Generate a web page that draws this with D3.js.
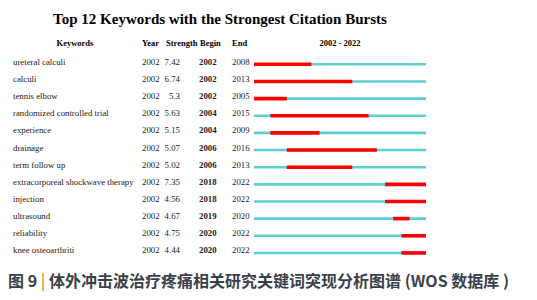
<!DOCTYPE html>
<html>
<head>
<meta charset="utf-8">
<script src="https://cdn.jsdelivr.net/npm/d3@7"></script>
<style>
  body { margin: 0; background: #fff; }
  svg { display: block; }
</style>
</head>
<body>
<div id="chart"></div>
<script>
// Keyword burst data
const keywords = ['ureteral calculi', 'calculi', 'tennis elbow', 'randomized controlled trial',
    'experience', 'drainage', 'term follow up', 'extracorporeal shockwave therapy',
    'injection', 'ultrasound', 'reliability', 'knee osteoarthriti'];
const years = [2002, 2002, 2002, 2002, 2002, 2002, 2002, 2002, 2002, 2002, 2002, 2002];
const strengths = ['7.42', '6.74', '5.3', '5.63', '5.15', '5.07', '5.02', '7.35', '4.56', '4.67', '4.75', '4.44'];
const begins = [2002, 2002, 2002, 2004, 2004, 2006, 2006, 2018, 2018, 2019, 2020, 2020];
const ends = [2008, 2013, 2005, 2015, 2009, 2016, 2013, 2022, 2022, 2020, 2022, 2022];
const range = [2002, 2022];

const width = 537, height = 300;
const svg = d3.select('#chart').append('svg')
    .attr('width', width)
    .attr('height', height);

const serif = '"Liberation Serif", "Times New Roman", serif';

// Scales
const x = d3.scaleLinear().domain([range[0], range[1] + 1]).range([254, 426]);
const y = d3.scaleBand().domain(d3.range(keywords.length)).range([55.7, 261.5]);

// Title
svg.append('text')
    .attr('x', 220).attr('y', 24)
    .attr('text-anchor', 'middle')
    .style('font-family', serif)
    .style('font-weight', 'bold')
    .style('font-size', '15px')
    .text('Top 12 Keywords with the Strongest Citation Bursts');

// Header row
const headers = [
    { t: 'Keywords', x: 75, a: 'middle' },
    { t: 'Year', x: 142, a: 'start' },
    { t: 'Strength', x: 166, a: 'start' },
    { t: 'Begin', x: 200, a: 'start' },
    { t: 'End', x: 232, a: 'start' },
    { t: range[0] + ' - ' + range[1], x: (x.range()[0] + x.range()[1]) / 2, a: 'middle' }
];
svg.selectAll('.hdr')
    .data(headers)
    .join('text')
    .attr('class', 'hdr')
    .attr('x', d => d.x).attr('y', 46)
    .attr('text-anchor', d => d.a)
    .style('font-family', serif)
    .style('font-weight', 'bold')
    .style('font-size', '8.5px')
    .text(d => d.t);

// Rows
const rows = svg.selectAll('.row')
    .data(keywords.map((k, i) => ({ k, i })))
    .join('g')
    .attr('class', 'row')
    .attr('transform', d => `translate(0, ${y(d.i) + y.bandwidth() / 2})`);

const cell = (sel, xp, anchor, bold, fn) => sel.append('text')
    .attr('x', xp).attr('y', 0.5)
    .attr('text-anchor', anchor)
    .style('font-family', serif)
    .style('font-size', '8.8px')
    .style('font-weight', bold ? 'bold' : 'normal')
    .style('fill', '#222')
    .text(fn);

cell(rows, 13, 'start', false, d => d.k);
cell(rows, 142, 'start', false, d => years[d.i]);
cell(rows, 180, 'end', false, d => strengths[d.i]);
cell(rows, 199, 'start', true, d => begins[d.i]);
cell(rows, 232, 'start', false, d => ends[d.i]);

// Full span line
rows.append('line')
    .attr('x1', x(range[0])).attr('x2', x(range[1] + 1))
    .attr('y1', 0).attr('y2', 0)
    .attr('stroke', '#5ccfcf')
    .attr('stroke-width', 2.6);

// Burst segment
rows.append('line')
    .attr('x1', d => x(begins[d.i])).attr('x2', d => x(ends[d.i] + 1))
    .attr('y1', 0).attr('y2', 0)
    .attr('stroke', '#ff0000')
    .attr('stroke-width', 3.6);

// Caption
const cap = svg.append('text')
    .attr('x', 8).attr('y', 287)
    .style('font-family', '"Noto Sans CJK SC", "Noto Sans", sans-serif')
    .style('font-weight', 'bold')
    .style('font-size', '16px')
    .style('fill', '#3b3f4a');
cap.append('tspan').text('图 9 ');
cap.append('tspan').style('fill', '#f0a030').text('|');
cap.append('tspan').text(' 体外冲击波治疗疼痛相关研究关键词突现分析图谱 (WOS 数据库 )');
</script>
</body>
</html>
